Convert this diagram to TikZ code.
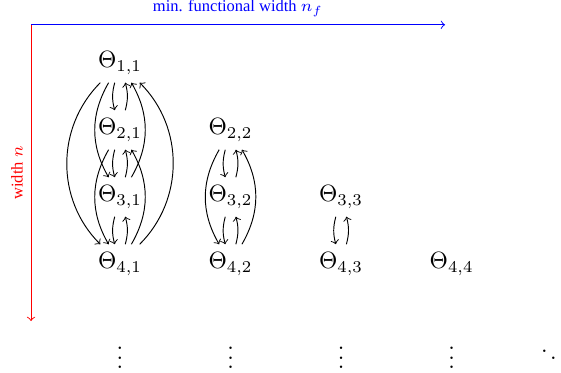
\documentclass[tikz,border=0pt]{standalone}
\usepackage{fontspec}
\newfontfamily\labelfont{Liberation Serif}

\begin{document}
\begin{tikzpicture}[link/.style={->,bend right=#1}, link/.default=15]
  \useasboundingbox (-1.791,0.94) rectangle (6.582,-4.627);

  % Axes
  \coordinate (origin) at (-1.328,0.57);
  \coordinate (nf) at (4.851,0.57);
  \coordinate (n) at (-1.328,-3.851);
  \draw[blue,->] (origin) -- (nf)
    node[midway,above] {\labelfont\scriptsize min. functional width $n_f$};
  \draw[red,->] (origin) -- (n)
    node[midway,above,rotate=90] {\labelfont\scriptsize width $n$};

  % Parameters
  \node (t11) at (0,0) {$\Theta_{1,1}$};
  \node (t21) at (0,-1) {$\Theta_{2,1}$};
  \node (t31) at (0,-2) {$\Theta_{3,1}$};
  \node (t41) at (0,-3) {$\Theta_{4,1}$};
  \node (t22) at (1.65,-1) {$\Theta_{2,2}$};
  \node (t32) at (1.65,-2) {$\Theta_{3,2}$};
  \node (t42) at (1.65,-3) {$\Theta_{4,2}$};
  \node (t33) at (3.3,-2) {$\Theta_{3,3}$};
  \node (t43) at (3.3,-3) {$\Theta_{4,3}$};
  \node (t44) at (4.95,-3) {$\Theta_{4,4}$};

  % Dots
  \node (v1) at (0,-4.3) {$\vdots$};
  \node (v2) at (1.65,-4.3) {$\vdots$};
  \node (v3) at (3.3,-4.3) {$\vdots$};
  \node (v4) at (4.95,-4.3) {$\vdots$};
  \node (d5) at (6.47,-4.3) {$\ddots$};

  % First column, down on the left
  \draw[link] (t11) to (t21);
  \draw[link=30] (t11) to (t31);
  \draw[link=45] (t11) to (t41);
  \draw[link] (t21) to (t31);
  \draw[link=30] (t21) to (t41);
  \draw[link] (t31) to (t41);
  % First column, up on the right
  \draw[link] (t21) to (t11);
  \draw[link=30] (t31) to (t11);
  \draw[link=45] (t41) to (t11);
  \draw[link] (t31) to (t21);
  \draw[link=30] (t41) to (t21);
  \draw[link] (t41) to (t31);

  % Second column
  \draw[link] (t22) to (t32);
  \draw[link=30] (t22) to (t42);
  \draw[link] (t32) to (t42);
  \draw[link] (t32) to (t22);
  \draw[link=30] (t42) to (t22);
  \draw[link] (t42) to (t32);

  % Third column
  \draw[link] (t33) to (t43);
  \draw[link] (t43) to (t33);
\end{tikzpicture}
\end{document}
